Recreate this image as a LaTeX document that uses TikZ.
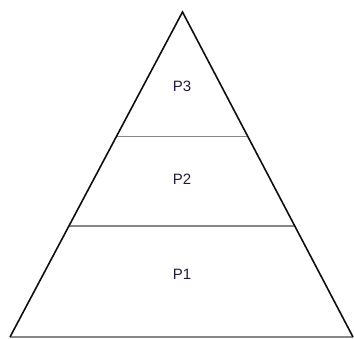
\documentclass[tikz,border=0pt]{standalone}
\usepackage{fontspec}
\setmainfont{Liberation Sans}
\usetikzlibrary{calc}
\definecolor{txt}{RGB}{40,25,60}
\definecolor{side}{RGB}{15,15,15}
\definecolor{divider}{RGB}{135,135,135}
\tikzset{
  sideline/.style={draw=side, line width=1.6pt},
  divline/.style={draw=divider, line width=1.3pt},
  lbl/.style={font=\fontsize{15}{17}\selectfont, text=txt, inner sep=0pt}
}
\begin{document}
\begin{tikzpicture}[x=1pt,y=-1pt]
\useasboundingbox (0,0) rectangle (354,338);
\coordinate (apex) at (182.5,12);
\coordinate (bl) at (10,337);
\coordinate (br) at (353,337);
\coordinate (l2) at ($(apex)!0.3837!(bl)$);
\coordinate (r2) at ($(apex)!0.3837!(br)$);
\coordinate (l1) at ($(apex)!0.658!(bl)$);
\coordinate (r1) at ($(apex)!0.658!(br)$);
\draw[divline] (bl) -- (br);
\draw[divline] (l2) -- (r2);
\draw[divline] (l1) -- (r1);
\draw[sideline] (bl) -- (apex) -- (br);
\node[lbl] (p3) at (182,86) {P3};
\node[lbl] (p2) at (182,179) {P2};
\node[lbl] (p1) at (182,274) {P1};
\end{tikzpicture}
\end{document}
